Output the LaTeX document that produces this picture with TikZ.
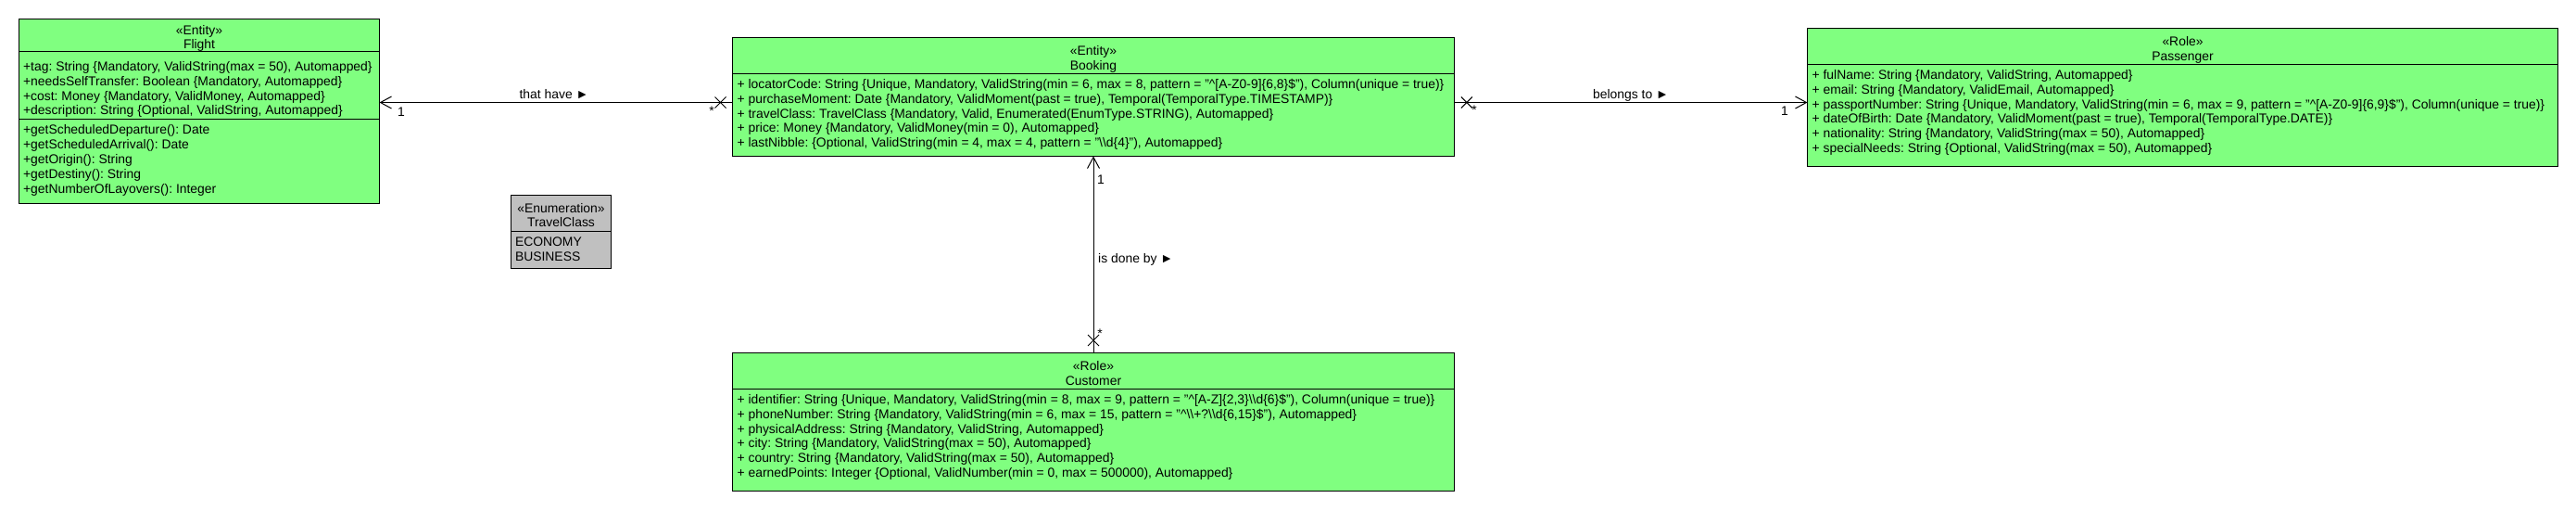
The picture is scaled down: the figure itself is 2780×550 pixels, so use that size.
\documentclass[tikz,border=0pt]{standalone}
\usepackage{fontspec}
\setmainfont{Liberation Sans}
\usetikzlibrary{arrows.meta,calc}
\definecolor{umlgreen}{RGB}{128,255,128}
\definecolor{umlgray}{RGB}{192,192,192}
\newcommand\umlline[4]{\node[txt] (#1) at (#2,#3) {#4};}
\newcommand\ca{\textasciicircum}
\newcommand\bs{\textbackslash}
\frenchspacing
\begin{document}
\begin{tikzpicture}[x=1pt,y=-1pt,
  classbox/.style={draw=black, line width=1.1pt, fill=umlgreen, rectangle, anchor=north west, inner sep=0pt, outer sep=0pt},
  enumbox/.style={classbox, fill=umlgray},
  sepline/.style={line width=1.1pt},
  txt/.style={inner sep=0pt, anchor=base west, font=\fontsize{13.9}{15.8}\selectfont},
  hdr/.style={inner sep=0pt, anchor=base, font=\fontsize{13.9}{15.8}\selectfont},
  lbl/.style={inner sep=0pt, anchor=base, font=\fontsize{13.9}{15.8}\selectfont},
  assoc/.style={line width=1pt, -{Straight Barb[length=12pt, width=13pt, line width=1pt]}},
  xcross/.pic={\draw[line width=1pt] (-6,-6) -- (6,6) (-6,6) -- (6,-6);},
]
\useasboundingbox (0,0) rectangle (2780,550);

% ---------- Flight ----------
\node[classbox, minimum width=389pt, minimum height=199pt] (flight) at (20.5,20.5) {};
\draw[sepline] ($(flight.north west)+(0,35)$) -- ($(flight.north east)+(0,35)$);
\draw[sepline] ($(flight.north west)+(0,108)$) -- ($(flight.north east)+(0,108)$);
\node[hdr] (flightst) at (215,37.5) {«Entity»};
\node[hdr] (flightnm) at (215,52.5) {Flight};
\umlline{fa1}{24.9}{76.7}{+tag: String \{Mandatory, ValidString(max = 50), Automapped\}}
\umlline{fa2}{24.9}{92.4}{+needsSelfTransfer: Boolean \{Mandatory, Automapped\}}
\umlline{fa3}{24.9}{108.1}{+cost: Money \{Mandatory, ValidMoney, Automapped\}}
\umlline{fa4}{24.9}{123.8}{+description: String \{Optional, ValidString, Automapped\}}
\umlline{fm1}{24.9}{144.3}{+getScheduledDeparture(): Date}
\umlline{fm2}{24.9}{160.3}{+getScheduledArrival(): Date}
\umlline{fm3}{24.9}{176.3}{+getOrigin(): String}
\umlline{fm4}{24.9}{192.3}{+getDestiny(): String}
\umlline{fm5}{24.9}{208.3}{+getNumberOfLayovers(): Integer}

% ---------- Booking ----------
\node[classbox, minimum width=779pt, minimum height=128pt] (booking) at (790.5,40.5) {};
\draw[sepline] ($(booking.north west)+(0,39)$) -- ($(booking.north east)+(0,39)$);
\node[hdr] (bookingst) at (1180,59.5) {«Entity»};
\node[hdr] (bookingnm) at (1180,75) {Booking};
\umlline{ba1}{795.4}{95.5}{+ locatorCode: String \{Unique, Mandatory, ValidString(min = 6, max = 8, pattern = "\ca[A-Z0-9]\{6,8\}\$"), Column(unique = true)\}}
\umlline{ba2}{795.4}{111.3}{+ purchaseMoment: Date \{Mandatory, ValidMoment(past = true), Temporal(TemporalType.TIMESTAMP)\}}
\umlline{ba3}{795.4}{127.1}{+ travelClass: TravelClass \{Mandatory, Valid, Enumerated(EnumType.STRING), Automapped\}}
\umlline{ba4}{795.4}{142.9}{+ price: Money \{Mandatory, ValidMoney(min = 0), Automapped\}}
\umlline{ba5}{795.4}{158.7}{+ lastNibble: \{Optional, ValidString(min = 4, max = 4, pattern = "\bs\bs d\{4\}"), Automapped\}}

% ---------- Passenger ----------
\node[classbox, minimum width=810pt, minimum height=149pt] (passenger) at (1950.5,30.5) {};
\draw[sepline] ($(passenger.north west)+(0,39)$) -- ($(passenger.north east)+(0,39)$);
\node[hdr] (passengerst) at (2355.5,49.5) {«Role»};
\node[hdr] (passengernm) at (2355.5,65) {Passenger};
\umlline{pa1}{1955.4}{85.5}{+ fulName: String \{Mandatory, ValidString, Automapped\}}
\umlline{pa2}{1955.4}{101.3}{+ email: String \{Mandatory, ValidEmail, Automapped\}}
\umlline{pa3}{1955.4}{117.1}{+ passportNumber: String \{Unique, Mandatory, ValidString(min = 6, max = 9, pattern = "\ca[A-Z0-9]\{6,9\}\$"), Column(unique = true)\}}
\umlline{pa4}{1955.4}{132.9}{+ dateOfBirth: Date \{Mandatory, ValidMoment(past = true), Temporal(TemporalType.DATE)\}}
\umlline{pa5}{1955.4}{148.7}{+ nationality: String \{Mandatory, ValidString(max = 50), Automapped\}}
\umlline{pa6}{1955.4}{164.5}{+ specialNeeds: String \{Optional, ValidString(max = 50), Automapped\}}

% ---------- Customer ----------
\node[classbox, minimum width=779pt, minimum height=149pt] (customer) at (790.5,380.5) {};
\draw[sepline] ($(customer.north west)+(0,39)$) -- ($(customer.north east)+(0,39)$);
\node[hdr] (customerst) at (1180,399.5) {«Role»};
\node[hdr] (customernm) at (1180,415) {Customer};
\umlline{ca1}{795.4}{435.5}{+ identifier: String \{Unique, Mandatory, ValidString(min = 8, max = 9, pattern = "\ca[A-Z]\{2,3\}\bs\bs d\{6\}\$"), Column(unique = true)\}}
\umlline{ca2}{795.4}{451.3}{+ phoneNumber: String \{Mandatory, ValidString(min = 6, max = 15, pattern = "\ca\bs\bs+?\bs\bs d\{6,15\}\$"), Automapped\}}
\umlline{ca3}{795.4}{467.1}{+ physicalAddress: String \{Mandatory, ValidString, Automapped\}}
\umlline{ca4}{795.4}{482.9}{+ city: String \{Mandatory, ValidString(max = 50), Automapped\}}
\umlline{ca5}{795.4}{498.7}{+ country: String \{Mandatory, ValidString(max = 50), Automapped\}}
\umlline{ca6}{795.4}{514.5}{+ earnedPoints: Integer \{Optional, ValidNumber(min = 0, max = 500000), Automapped\}}

% ---------- TravelClass ----------
\node[enumbox, minimum width=108pt, minimum height=79pt] (travel) at (551.5,210.5) {};
\draw[sepline] ($(travel.north west)+(0,39)$) -- ($(travel.north east)+(0,39)$);
\node[hdr] (travelst) at (605.5,229) {«Enumeration»};
\node[hdr] (travelnm) at (605.5,244.5) {TravelClass};
\umlline{te1}{555.8}{265.5}{ECONOMY}
\umlline{te2}{555.8}{281}{BUSINESS}

% ---------- Connectors ----------
\coordinate (yline) at (0,110.5);
\draw[assoc] (booking.west |- yline) -- (flight.east |- yline);
\pic at ($(booking.west |- yline)+(-13,0)$) {xcross};
\node[lbl] (lthat) at (598,106.5) {that have ►};
\node[lbl] (m1a) at (433,125) {1};
\node[lbl] (m1b) at (768,124.5) {*};

\draw[assoc] (booking.east |- yline) -- (passenger.west |- yline);
\pic at ($(booking.east |- yline)+(13.4,0)$) {xcross};
\node[lbl] (lbel) at (1760,106.5) {belongs to ►};
\node[lbl] (m2a) at (1591,123) {*};
\node[lbl] (m2b) at (1926,124) {1};

\draw[assoc] (customer.north) -- (booking.south);
\pic at ($(customer.north)+(0,-13.5)$) {xcross};
\node[txt] (ldone) at (1185,283) {is done by ►};
\node[lbl] (m3a) at (1188,198) {1};
\node[lbl] (m3b) at (1187,364) {*};
\end{tikzpicture}
\end{document}
